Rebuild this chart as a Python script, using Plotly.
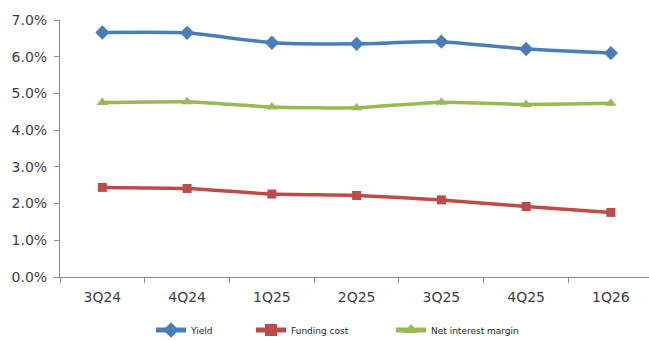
import plotly.graph_objects as go

quarters = ["3Q24", "4Q24", "1Q25", "2Q25", "3Q25", "4Q25", "1Q26"]
yield_pct = [6.66, 6.65, 6.38, 6.35, 6.41, 6.21, 6.10]
funding_cost = [2.44, 2.41, 2.26, 2.22, 2.10, 1.92, 1.76]
nim = [4.75, 4.77, 4.63, 4.61, 4.76, 4.70, 4.73]

series = [
    ("Yield", yield_pct, "#4A7EBB", "diamond", 11, "legend", 151),
    ("Funding cost", funding_cost, "#BE4B48", "square", 9, "legend2", 251),
    ("Net interest margin", nim, "#98B954", "triangle-up", 10, "legend3", 391),
]

fig = go.Figure()
legends = {}
for name, vals, color, sym, size, leg, lx in series:
    fig.add_trace(go.Scatter(
        x=quarters, y=[v / 100 for v in vals], name=name, mode="lines+markers",
        line=dict(color=color, width=3.5, shape="spline", smoothing=0.5),
        marker=dict(symbol=sym, size=size, color=color),
        legend=leg,
    ))
    legends[leg] = dict(
        orientation="h", xref="container", yref="container",
        x=lx / 649, xanchor="left", y=1 - 330 / 341, yanchor="middle",
        font=dict(size=9, color="#262626"), bgcolor="rgba(0,0,0,0)",
        itemsizing="constant",
    )

fig.update_layout(
    width=649, height=341,
    margin=dict(l=60, r=0, t=20, b=64, autoexpand=False),
    paper_bgcolor="white", plot_bgcolor="white",
    font=dict(family="DejaVu Sans", color="#404040"),
    showlegend=True,
    xaxis=dict(
        type="category", range=[-0.5, 6.45],
        showline=True, linecolor="#8C8C8C", linewidth=1,
        ticks="outside", tickson="boundaries", ticklen=5, tickcolor="#8C8C8C",
        showgrid=False, tickfont=dict(size=14, color="#404040"), zeroline=False,
        ticklabelstandoff=7,
    ),
    yaxis=dict(
        range=[0, 0.07], dtick=0.01, tickformat=".1%",
        showline=True, linecolor="#8C8C8C", linewidth=1,
        ticks="outside", ticklen=5, tickcolor="#8C8C8C",
        showgrid=False, zeroline=False, tickfont=dict(size=14, color="#404040"),
        ticklabelstandoff=4,
    ),
    **legends,
)

fig.write_html("out.html")
